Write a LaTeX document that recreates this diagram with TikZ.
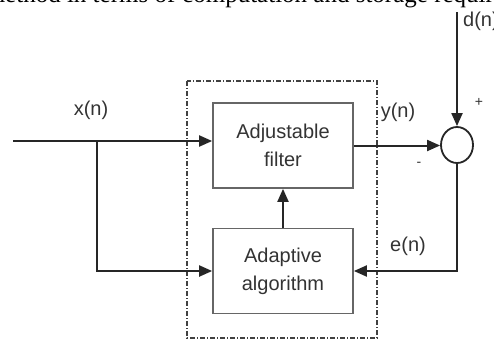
\documentclass[tikz,border=0pt]{standalone}
\usepackage{fontspec}
\setmainfont{Liberation Serif}
\newfontfamily\diagfont{Liberation Sans}
\usetikzlibrary{shapes.geometric,arrows.meta}
\begin{document}
\begin{tikzpicture}[x=1pt,y=-1pt,
  line/.style={line width=2pt,draw=black!85},
  arr/.style={line,-{Triangle[length=13pt,width=11pt]}},
  blockbox/.style={draw=black!60,line width=1.7pt,minimum width=140pt,minimum height=85pt,align=center,
     font=\diagfont\fontsize{20}{28}\selectfont,text=black!80,inner sep=0pt},
  lbl/.style={font=\diagfont\fontsize{20}{24}\selectfont,text=black!80,inner sep=0pt},
  sumnode/.style={ellipse,draw=black!85,line width=1.8pt,minimum width=32pt,minimum height=36pt,inner sep=0pt},
  frame/.style={draw=black!75,line width=1.3pt,dash pattern=on 5pt off 2pt on 1pt off 2pt}]
\useasboundingbox (0,0) rectangle (494,340);
\begin{scope}
\clip (0,0) rectangle (494,340);
% cut-off text line at the top
\node[anchor=base west,inner sep=0pt,font=\fontsize{25}{30}\selectfont] (topB) at (182,2.5) {computation and storage requirements};
\node[anchor=base east,inner sep=0pt,font=\fontsize{25}{30}\selectfont] (topA) at (175.5,2.5) {the method in terms of};
% frame
\draw[frame] (187,81) rectangle (377,338);
% blocks
\node[blockbox] (filt) at (283,145.5) {Adjustable\\filter};
\node[blockbox] (alg) at (283,271) {Adaptive\\algorithm};
\node[sumnode] (sum) at (457,145) {};
% coordinates
\coordinate (xs) at (13,141);
\coordinate (br) at (97,141);
\coordinate (dtop) at (457,12);
% connectors
\draw[arr] (xs) -- (xs -| filt.west);
\draw[arr] (br) |- (alg.west);
\draw[arr] (alg.north) -- (filt.south);
\draw[arr] (filt.east) -- (filt.east -| sum.west);
\draw[arr] (dtop) -- (sum.north);
\draw[arr] (sum.south) |- (alg.east);
% labels
\node[lbl] (xl) at (91,110) {x(n)};
\node[lbl] (yl) at (398,112) {y(n)};
\node[lbl] (el) at (408,246) {e(n)};
\node[lbl,anchor=west] (dl) at (463,21) {d(n)};
\node[lbl,font=\diagfont\fontsize{14}{16}\selectfont] (plus) at (479,102) {+};
\node[lbl,font=\diagfont\fontsize{14}{16}\selectfont] (minus) at (419,164) {-};
\end{scope}
\end{tikzpicture}
\end{document}
